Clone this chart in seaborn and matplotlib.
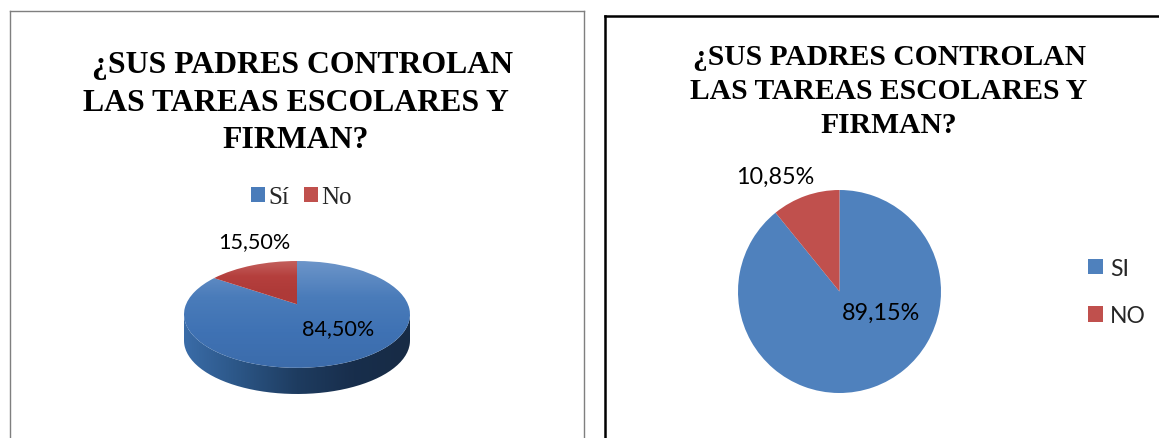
#!/usr/bin/env python3

import numpy as np
import matplotlib
matplotlib.use('Agg')
import matplotlib.pyplot as plt
from matplotlib.colors import LinearSegmentedColormap
from matplotlib.patches import Patch, PathPatch
from matplotlib.path import Path
import seaborn as sns

TITLE_LINES = ['¿SUS PADRES CONTROLAN', 'LAS TAREAS ESCOLARES Y', 'FIRMAN?']

left_labels = ['Sí', 'No']
left_values = [84.50, 15.50]
left_pct = ['84,50%', '15,50%']

right_labels = ['SI', 'NO']
right_values = [89.15, 10.85]
right_pct = ['89,15%', '10,85%']

W, H = 1159, 439
sns.set_theme(style='white')
plt.rcParams['font.family'] = ['Lato', 'DejaVu Sans']
blue, red = sns.color_palette(['#4f81bd', '#c0504d'])

fig = plt.figure(figsize=(W / 100, H / 100), dpi=100, facecolor='white')


def px_axes(x0, y0, x1, y1, **kw):
    """Axes placed with image pixel bounds (y measured from the top)."""
    return fig.add_axes([x0 / W, 1 - y1 / H, (x1 - x0) / W, (y1 - y0) / H], **kw)


def px(x, y):
    return x / W, 1 - y / H


def frame(x0, y0, x1, y1, color, lw):
    ax = px_axes(x0, y0, x1, y1)
    ax.set_xticks([])
    ax.set_yticks([])
    ax.patch.set_alpha(0)
    for name, spine in ax.spines.items():
        spine.set_visible(name in ('left', 'top', 'right'))
        spine.set_color(color)
        spine.set_linewidth(lw)
    return ax


def title_lines(xs, ys, size):
    for line, x, y in zip(TITLE_LINES, xs, ys):
        fig.text(*px(x, y), line, ha='left', va='baseline', family='Liberation Serif',
                 fontweight='bold', fontsize=size, color='black')


def tilt(path, a=0.19):
    """Perspective of the tilted disc: the apex moves up, the rim stays put."""
    v = path.vertices
    d = 1 + a * v[:, 1]
    out = np.column_stack([v[:, 0] * np.sqrt(1 - a ** 2) / d, (v[:, 1] + a) / d])
    return Path(out, path.codes)


def gradient(ax, colors, clip, horizontal=False, extent=(-1, 1, -1.6, 1), z=2):
    cmap = LinearSegmentedColormap.from_list('g', colors)
    ramp = np.linspace(0, 1, 256)
    ramp = ramp[None, :] if horizontal else ramp[:, None]
    im = ax.imshow(ramp, cmap=cmap, extent=extent, origin='upper' if not horizontal else 'lower',
                   aspect='auto', zorder=z, interpolation='bilinear')
    im.set_clip_path(clip)


frame(10, 12, 584, 445, '#7f7f7f', 1.0)
frame(605, 17, 1175, 445, '#000000', 1.8)

# left chart, flattened pie with a rim
depth = 0.49
ax = px_axes(184, 262, 410, 395)
wedges, _ = ax.pie(left_values, startangle=90, counterclock=False, colors=[blue, red],
                   wedgeprops={'linewidth': 0})
ax.set_aspect('auto')
ax.set_xlim(-1, 1)
ax.set_ylim(-1 - depth, 1)

t = np.linspace(np.pi, 2 * np.pi, 100)
rim = np.vstack([np.column_stack([np.cos(t), np.sin(t) - depth]),
                 np.column_stack([np.cos(t[::-1]), np.sin(t[::-1])])])
rim_patch = PathPatch(Path(rim), transform=ax.transData, facecolor='none', edgecolor='none')
ax.add_patch(rim_patch)
gradient(ax, ['#3a6ca8', '#2b5585', '#1e3c60', '#182e4c', '#172b45'], rim_patch, horizontal=True)

tops = [['#6d95c9', '#4a7cba', '#3f72b4', '#3c6cab'], ['#c4625f', '#b53f3d', '#ae3a38', '#ae3a38']]
for w, cols, ext in zip(wedges, tops, [(-1, 1, -1, 1), (-1, 1, 0.1, 1)]):
    p = PathPatch(tilt(w.get_path()), transform=ax.transData, facecolor='none', edgecolor='none')
    ax.add_patch(p)
    gradient(ax, cols, p, extent=ext, z=3)
    w.set_visible(False)
ax.set_xlim(-1, 1)
ax.set_ylim(-1 - depth, 1)

title_lines([92, 83, 222], [72.5, 111, 148], 22.85)
fig.text(*px(338, 329), left_pct[0], ha='center', va='center', fontsize=15.6, color='black')
fig.text(*px(254, 242), left_pct[1], ha='center', va='center', fontsize=15.6, color='black')
fig.legend(handles=[Patch(facecolor='#4a7cba', linewidth=0, label=left_labels[0]),
                    Patch(facecolor='#c0504d', linewidth=0, label=left_labels[1])],
           loc='center', bbox_to_anchor=px(301.5, 198.5), ncol=2, frameon=False, handlelength=0.56,
           handleheight=0.56, handletextpad=0.15, columnspacing=0.56, borderpad=0, borderaxespad=0,
           prop={'family': 'Liberation Serif', 'size': 18})

# right chart, plain pie
ax2 = px_axes(738, 191, 941, 394)
ax2.patch.set_alpha(0)
ax2.pie(right_values, startangle=90, counterclock=False, colors=[blue, red],
        wedgeprops={'linewidth': 0})
ax2.set_xlim(-1, 1)
ax2.set_ylim(-1, 1)

title_lines([693, 690, 820], [65, 99, 133], 21.35)
fig.text(*px(881, 313), right_pct[0], ha='center', va='center', fontsize=16.8, color='black')
fig.text(*px(775, 177), right_pct[1], ha='center', va='center', fontsize=16.8, color='black')
fig.legend(handles=[Patch(facecolor=blue, linewidth=0, label=right_labels[0]),
                    Patch(facecolor=red, linewidth=0, label=right_labels[1])],
           loc='center left', bbox_to_anchor=px(1088, 293), frameon=False, handlelength=0.65,
           handleheight=0.65, handletextpad=0.32, labelspacing=1.15, borderpad=0, borderaxespad=0,
           prop={'family': 'Lato', 'size': 16.5})

fig.savefig('out.png', dpi=100)
